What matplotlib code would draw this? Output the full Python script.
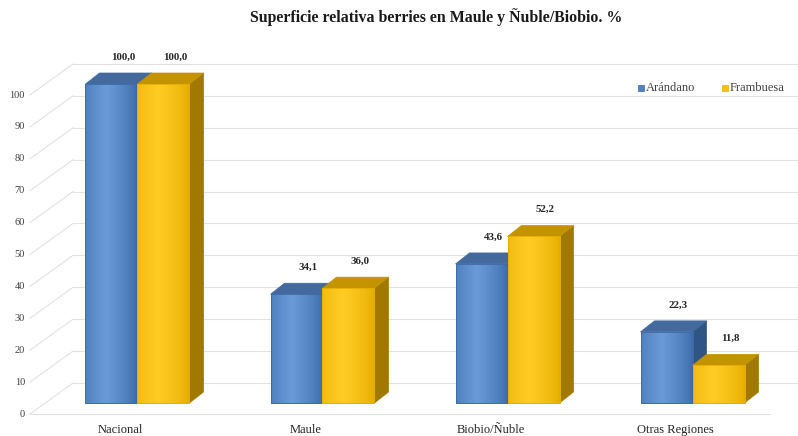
import numpy as np
import matplotlib
matplotlib.use("Agg")
import matplotlib.pyplot as plt
from matplotlib.patches import Polygon, Rectangle

# ---- data ----
categories = ["Nacional", "Maule", "Biobio/Ñuble", "Otras Regiones"]
series_names = ["Arándano", "Frambuesa"]
arandano = [100.0, 34.1, 43.6, 22.3]
frambuesa = [100.0, 36.0, 52.2, 11.8]
yticks = [0, 10, 20, 30, 40, 50, 60, 70, 80, 90, 100]
title = "Superficie relativa berries en Maule y Ñuble/Biobio. %"

# ---- styling / geometry ----
W, H, DPI = 798, 436, 100
SX = 185.0          # px per category unit
SY = 3.19           # px per value unit
X0 = 137.5          # px of first group center
Y0 = 33.0           # px (from bottom) of value 0 on bar plane
serif = ["Liberation Serif", "DejaVu Serif"]

fig = plt.figure(figsize=(W / DPI, H / DPI), dpi=DPI)
ax = fig.add_axes([0, 0, 1, 1])
ax.set_xlim(-X0 / SX, (W - X0) / SX)
ax.set_ylim(-Y0 / SY, (H - Y0) / SY)
ax.axis("off")

def px(dx):
    return dx / SX

def py(dy):
    return dy / SY

lab_dy = py(-11)
back_dy = py(20)
lab_x = px(30 - X0)
back_x = px(73 - X0)
right_x = px(W - X0)
grid_col = "#e2e2e2"

for v in yticks:
    ax.plot([back_x, right_x], [v + back_dy, v + back_dy], color=grid_col, lw=0.8, zorder=1)
    ax.plot([lab_x, back_x], [v + lab_dy, v + back_dy], color=grid_col, lw=0.8, zorder=1)
    ax.text(lab_x - px(5), v + lab_dy, str(v), ha="right", va="center",
            fontsize=7.5, family=serif, color="#404040")
ax.plot([lab_x, px(770 - X0)], [lab_dy, lab_dy], color=grid_col, lw=0.8, zorder=1)

bw = 52 / SX
ddx = px(14)
ddy = py(11)

blue = dict(front="#4f81c4", light="#6a9ad8", dark="#3c6aa8", top="#44699c", side="#2f5585")
gold = dict(front="#ffc000", light="#ffcc26", dark="#e6ad00", top="#c39300", side="#a17800")

def grad_img(c_dark, c_light):
    from matplotlib.colors import to_rgb
    a = np.array(to_rgb(c_dark)); b = np.array(to_rgb(c_light))
    t = np.linspace(0, 1, 64)
    prof = np.clip(1 - np.abs(t - 0.4) / 0.6, 0, 1) ** 0.7
    row = a[None, :] * (1 - prof[:, None]) + b[None, :] * prof[:, None]
    return row[None, :, :]

def draw_bar(xc, v, col, z):
    x0 = xc - bw / 2
    x1 = xc + bw / 2
    ax.add_patch(Polygon([(x1, 0), (x1 + ddx, ddy), (x1 + ddx, v + ddy), (x1, v)],
                         closed=True, fc=col["side"], ec=col["side"], lw=0.5, zorder=z))
    ax.add_patch(Polygon([(x0, v), (x0 + ddx, v + ddy), (x1 + ddx, v + ddy), (x1, v)],
                         closed=True, fc=col["top"], ec=col["top"], lw=0.5, zorder=z))
    rect = Rectangle((x0, 0), bw, v, fc=col["front"], ec=col["dark"], lw=0.6, zorder=z + 0.1)
    ax.add_patch(rect)
    im = ax.imshow(grad_img(col["dark"], col["light"]), extent=(x0, x1, 0, v),
                   aspect="auto", zorder=z + 0.2, interpolation="bilinear")
    im.set_clip_path(rect)
    ax.add_patch(Rectangle((x0, 0), bw, v, fc="none", ec=col["dark"], lw=0.6, zorder=z + 0.3))

x = np.arange(len(categories))
for i in x:
    draw_bar(i - bw / 2, arandano[i], blue, 3 + i * 2)
    draw_bar(i + bw / 2, frambuesa[i], gold, 4 + i * 2)
    for xc, v in ((i - bw / 2, arandano[i]), (i + bw / 2, frambuesa[i])):
        ax.text(xc + px(12), v + ddy + py(16), f"{v:.1f}".replace(".", ","),
                ha="center", va="center", fontsize=7.8, fontweight="bold",
                family=serif, color="#262626", zorder=20)
    ax.text(i - px(17), lab_dy + py(-16), categories[i], ha="center", va="center",
            fontsize=9, family=serif, color="#262626")

leg_y = py(436 - 88 - Y0)
for name, col, xpx in ((series_names[0], blue, 641), (series_names[1], gold, 725)):
    s = 6
    ax.add_patch(Rectangle((px(xpx - X0 - s / 2), leg_y - py(s / 2)), px(s), py(s),
                           fc=col["front"], ec=col["dark"], lw=0.5, zorder=20))
    ax.text(px(xpx - X0 + 5), leg_y, name, ha="left", va="center",
            fontsize=9, family=serif, color="#404040", zorder=20)

fig.text(436 / W, 1 - 17 / H, title, ha="center", va="center",
         fontsize=11.4, fontweight="bold", family=serif, color="#1a1a1a")

fig.savefig("out.png", dpi=DPI)
